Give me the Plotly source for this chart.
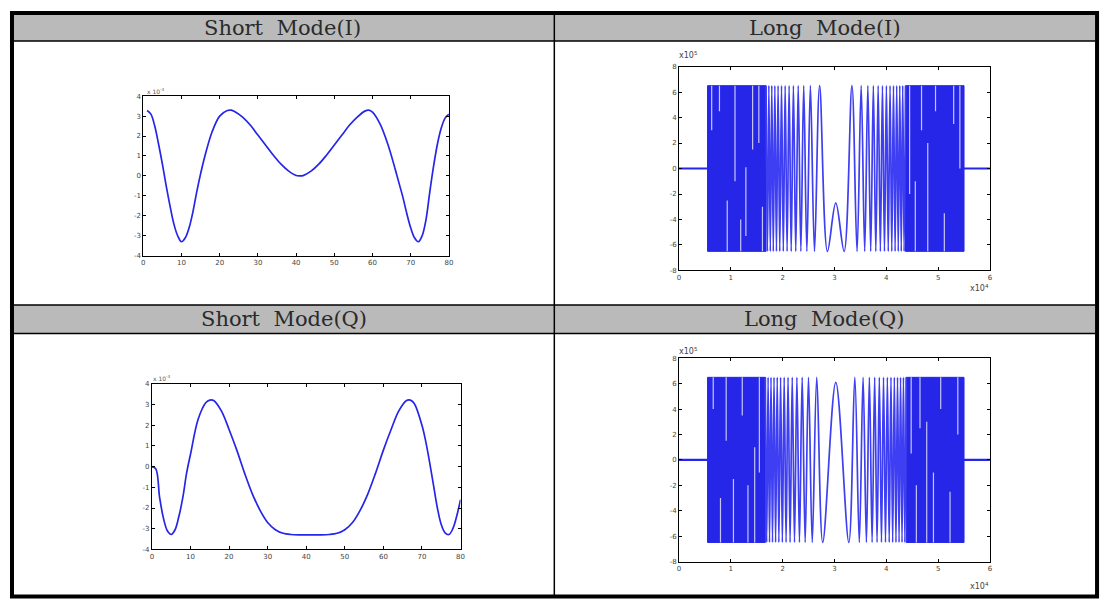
import plotly.graph_objects as go

# ---------------- data ----------------
# Short Mode (I): sample index vs value (x1e-3)
SI_n = [1, 2, 3, 4, 5, 6, 7, 8, 9, 10, 11, 12, 13, 14, 15, 16, 18, 20, 22, 23, 24, 26, 28, 30,
        32, 34, 36, 38, 40, 41, 42, 44, 46, 48, 50, 52, 54, 56, 58, 59, 60, 62, 64, 66, 67, 68,
        69, 70, 71, 72, 73, 74, 75, 76, 77, 78, 79, 80]
SI_v = [3.28, 3.1, 2.5, 1.6, 0.6, -0.5, -1.5, -2.4, -3.0, -3.3, -3.1, -2.6, -1.8, -0.8, 0.1, 0.9,
        2.2, 3.0, 3.28, 3.3, 3.22, 2.95, 2.55, 2.05, 1.55, 1.05, 0.6, 0.25, 0.02, 0.0, 0.03, 0.25,
        0.6, 1.05, 1.55, 2.05, 2.55, 2.95, 3.25, 3.3, 3.2, 2.6, 1.6, 0.3, -0.4, -1.1, -1.9, -2.6,
        -3.1, -3.3, -3.0, -2.2, -0.8, 0.5, 1.6, 2.4, 2.9, 3.1]

# Short Mode (Q)
SQ_n = [0, 1, 2, 3, 4, 5, 6, 7, 8, 9, 10, 12, 14, 15, 16, 18, 20, 22, 24, 26, 28, 30, 32, 34, 36,
        38, 40, 42, 44, 46, 48, 50, 52, 54, 56, 58, 60, 62, 64, 66, 67, 68, 70, 71, 72, 73, 74,
        75, 76, 77, 78, 79, 80]
SQ_v = [0.0, -0.1, -1.5, -2.5, -3.1, -3.28, -3.05, -2.4, -1.5, -0.3, 0.6, 2.3, 3.1, 3.22, 3.2,
        2.7, 1.8, 0.8, -0.3, -1.3, -2.1, -2.7, -3.05, -3.22, -3.28, -3.3, -3.3, -3.3, -3.3, -3.28,
        -3.22, -3.05, -2.7, -2.1, -1.3, -0.3, 0.8, 1.8, 2.7, 3.2, 3.22, 3.05, 2.0, 1.2, 0.2, -0.9,
        -2.0, -2.8, -3.2, -3.28, -3.0, -2.4, -1.6]

# Long Mode: chirp centre, start/end of the pulse (x1e4), peak level (x1e5)
LONG_CENTER = 3.025
LONG_START = 0.55
LONG_END = 5.50
LONG_PEAK = 6.5
LONG_XMAX = 6.0

# Long Mode (I): offsets of resolvable extrema from the centre (x1e4), centre value
LI_offsets = [0.1611, 0.3120, 0.4108, 0.4900, 0.5582, 0.6188, 0.6741, 0.7251, 0.7727, 0.8177,
              0.8602, 0.9007, 0.9395, 0.9768, 1.0127, 1.0473, 1.0809, 1.1134, 1.1450, 1.1758,
              1.2058, 1.2350, 1.2636, 1.2916, 1.3189, 1.3457]
LI_center_val = -2.7
# light (aliasing) streaks seen inside the unresolved parts: x, y from, y to
LI_gaps_x = [0.63, 0.78, 0.93, 1.08, 1.19, 1.29, 1.42, 1.54, 1.61, 4.45, 4.56, 4.68, 4.80, 4.95, 5.12, 5.30, 5.42]
LI_gaps_y0 = [6.5, 6.5, -2.5, 6.5, -4.0, 0.1, 6.5, 6.5, -3.0, 6.5, -1.0, 6.5, 2.0, 6.5, -3.5, 6.5, 6.5]
LI_gaps_y1 = [3.0, 4.5, -6.5, -1.0, -6.5, -5.3, 1.5, 2.0, -6.5, -2.0, -6.5, 3.0, -6.5, 4.5, -6.5, 3.5, 0.0]

# Long Mode (Q)
LQ_offsets = [0.2519, 0.3672, 0.4541, 0.5269, 0.5908, 0.6484, 0.7013, 0.7505, 0.7966, 0.8403,
              0.8817, 0.9213, 0.9593, 0.9958, 1.0310, 1.0651, 1.0981, 1.1302, 1.1613, 1.1917,
              1.2213, 1.2501, 1.2784, 1.3060, 1.3331, 1.3596]
LQ_center_val = 6.1
LQ_gaps_x = [0.66, 0.80, 0.91, 1.05, 1.22, 1.33, 1.46, 1.55, 4.48, 4.58, 4.65, 4.78, 4.91, 5.05, 5.23, 5.38]
LQ_gaps_y0 = [6.5, -3.0, 6.5, -1.5, 6.5, -2.0, 1.0, 6.5, 6.5, -2.0, 6.5, 3.0, -1.0, 6.5, -2.5, 6.5]
LQ_gaps_y1 = [4.0, -6.5, 1.5, -6.5, 3.5, -6.5, -6.5, -1.0, 0.5, -6.5, 2.5, -6.5, -6.5, 4.0, -6.5, 2.0]

headers = ["Short\u00a0 Mode(I)", "Long\u00a0 Mode(I)", "Short\u00a0 Mode(Q)", "Long\u00a0 Mode(Q)"]
short_xticks = [0, 10, 20, 30, 40, 50, 60, 70, 80]
short_yticks = [-4, -3, -2, -1, 0, 1, 2, 3, 4]
long_xticks = [0, 1, 2, 3, 4, 5, 6]
long_yticks = [-8, -6, -4, -2, 0, 2, 4, 6, 8]

# ---------------- helpers ----------------
OFF = 8  # page body margin
W, H = 1110 - OFF, 604 - OFF
def PX(x):
    return (x - OFF) / W
def PY(y):
    return 1 - (y - OFF) / H

BLUE = "rgb(38,38,232)"
LBLUE = "rgb(62,62,242)"

fig = go.Figure()

def chirp_xy(offsets, center_val):
    xs, ys = [], []
    n = len(offsets)
    for i in range(n - 1, -1, -1):
        xs.append(LONG_CENTER - offsets[i])
        ys.append(LONG_PEAK if (i + 1) % 2 == 0 else -LONG_PEAK)
    xs.append(LONG_CENTER)
    ys.append(center_val)
    for i in range(n):
        xs.append(LONG_CENTER + offsets[i])
        ys.append(LONG_PEAK if (i + 1) % 2 == 0 else -LONG_PEAK)
    return xs, ys

def add_long(offsets, center_val, gx, gy0, gy1, xa, ya):
    for x0, x1 in [(0, LONG_START), (LONG_END, LONG_XMAX)]:
        fig.add_trace(go.Scatter(x=[x0, x1], y=[0, 0], mode="lines",
                                 line=dict(color=BLUE, width=2.2), xaxis=xa, yaxis=ya,
                                 showlegend=False, hoverinfo="skip"))
    edge = offsets[-1]
    for x0, x1 in [(LONG_START, LONG_CENTER - edge), (LONG_CENTER + edge, LONG_END)]:
        fig.add_trace(go.Scatter(x=[x0, x1, x1, x0, x0],
                                 y=[LONG_PEAK, LONG_PEAK, -LONG_PEAK, -LONG_PEAK, LONG_PEAK],
                                 mode="lines", fill="toself", fillcolor=BLUE,
                                 line=dict(color=BLUE, width=1), xaxis=xa, yaxis=ya,
                                 showlegend=False, hoverinfo="skip"))
    sx, sy = [], []
    for x, a, b in zip(gx, gy0, gy1):
        sx += [x, x, None]
        sy += [a, b, None]
    fig.add_trace(go.Scatter(x=sx, y=sy, mode="lines", line=dict(color="rgba(225,225,255,0.85)", width=1.2),
                             xaxis=xa, yaxis=ya, showlegend=False, hoverinfo="skip"))
    xs, ys = chirp_xy(offsets, center_val)
    fig.add_trace(go.Scatter(x=xs, y=ys, mode="lines", line=dict(color=LBLUE, width=1.7, shape="spline"),
                             xaxis=xa, yaxis=ya, showlegend=False, hoverinfo="skip"))

fig.add_trace(go.Scatter(x=SI_n, y=SI_v, mode="lines", line=dict(color=BLUE, width=1.7, shape="spline"),
                         xaxis="x", yaxis="y", showlegend=False))
add_long(LI_offsets, LI_center_val, LI_gaps_x, LI_gaps_y0, LI_gaps_y1, "x2", "y2")
fig.add_trace(go.Scatter(x=SQ_n, y=SQ_v, mode="lines", line=dict(color=BLUE, width=1.7, shape="spline"),
                         xaxis="x3", yaxis="y3", showlegend=False))
add_long(LQ_offsets, LQ_center_val, LQ_gaps_x, LQ_gaps_y0, LQ_gaps_y1, "x4", "y4")

def axis(domain, rng, tickvals, anchor):
    return dict(domain=domain, range=rng, tickvals=tickvals, ticktext=[str(t) for t in tickvals],
                showline=True, linecolor="black", linewidth=1, mirror="ticks",
                ticks="inside", ticklen=3, tickcolor="black", showgrid=False, zeroline=False,
                tickfont=dict(size=7, color="#444", family="DejaVu Sans"), anchor=anchor,
                fixedrange=True)

boxes = {
    "1": (142, 449.3, 93.3, 255),
    "2": (680.7, 993.3, 63.3, 270),
    "3": (150.7, 461, 385, 552.7),
    "4": (680.7, 993.3, 359, 565),
}
rng = {"1": ([0, 80], [-4, 4], short_xticks, short_yticks),
       "2": ([0, 6], [-8, 8], long_xticks, long_yticks),
       "3": ([0, 80], [-4, 4], short_xticks, short_yticks),
       "4": ([0, 6], [-8, 8], long_xticks, long_yticks)}

layout_axes = {}
for k, (x0, x1, y0, y1) in boxes.items():
    xr, yr, xt, yt = rng[k]
    xname = "xaxis" if k == "1" else "xaxis" + k
    yname = "yaxis" if k == "1" else "yaxis" + k
    layout_axes[xname] = axis([PX(x0), PX(x1)], xr, xt, "y" if k == "1" else "y" + k)
    layout_axes[yname] = axis([PY(y1), PY(y0)], yr, yt, "x" if k == "1" else "x" + k)

shapes = []
for (ya, yb) in [(11, 37.5), (305, 334)]:
    shapes.append(dict(type="rect", xref="paper", yref="paper", x0=PX(12), x1=PX(1099),
                       y0=PY(yb), y1=PY(ya), fillcolor="#bababa", line=dict(width=0), layer="below"))
for yy in [37.5, 305, 334]:
    shapes.append(dict(type="line", xref="paper", yref="paper", x0=PX(12), x1=PX(1099),
                       y0=PY(yy), y1=PY(yy), line=dict(color="black", width=1.5)))
shapes.append(dict(type="line", xref="paper", yref="paper", x0=PX(555.3), x1=PX(555.3),
                   y0=PY(599), y1=PY(11), line=dict(color="black", width=1.5)))
shapes.append(dict(type="rect", xref="paper", yref="paper", x0=PX(10), x1=PX(1101),
                   y0=PY(600.5), y1=PY(9), line=dict(color="black", width=4)))

annotations = []
hdr_pos = [(281.5, 24), (827, 24), (283.5, 319.5), (827, 319.5)]
for txt, (cx, cy) in zip(headers, hdr_pos):
    annotations.append(dict(text=txt, x=PX(cx), y=PY(cy), xref="paper", yref="paper",
                            showarrow=False, xanchor="center", yanchor="middle",
                            font=dict(family="DejaVu Serif", size=21, color="#2a2a2a")))
for (ex, ey) in [(144, 88), (150, 379)]:
    annotations.append(dict(text="x 10<sup>-3</sup>", x=PX(ex), y=PY(ey), xref="paper", yref="paper",
                            showarrow=False, xanchor="left", yanchor="middle",
                            font=dict(family="DejaVu Sans", size=6, color="#555")))
for (ex, ey) in [(679, 52), (679, 352)]:
    annotations.append(dict(text="x10<sup>5</sup>", x=PX(ex), y=PY(ey), xref="paper", yref="paper",
                            showarrow=False, xanchor="left", yanchor="middle",
                            font=dict(family="DejaVu Sans", size=8, color="#444")))
for (ex, ey) in [(994, 288), (994, 590)]:
    annotations.append(dict(text="x10<sup>4</sup>", x=PX(ex), y=PY(ey), xref="paper", yref="paper",
                            showarrow=False, xanchor="right", yanchor="middle",
                            font=dict(family="DejaVu Sans", size=8, color="#444")))

fig.update_layout(width=W, height=H, autosize=False, margin=dict(l=0, r=0, t=0, b=0),
                  paper_bgcolor="white", plot_bgcolor="white", showlegend=False,
                  shapes=shapes, annotations=annotations, **layout_axes)

fig.write_html("out.html")
